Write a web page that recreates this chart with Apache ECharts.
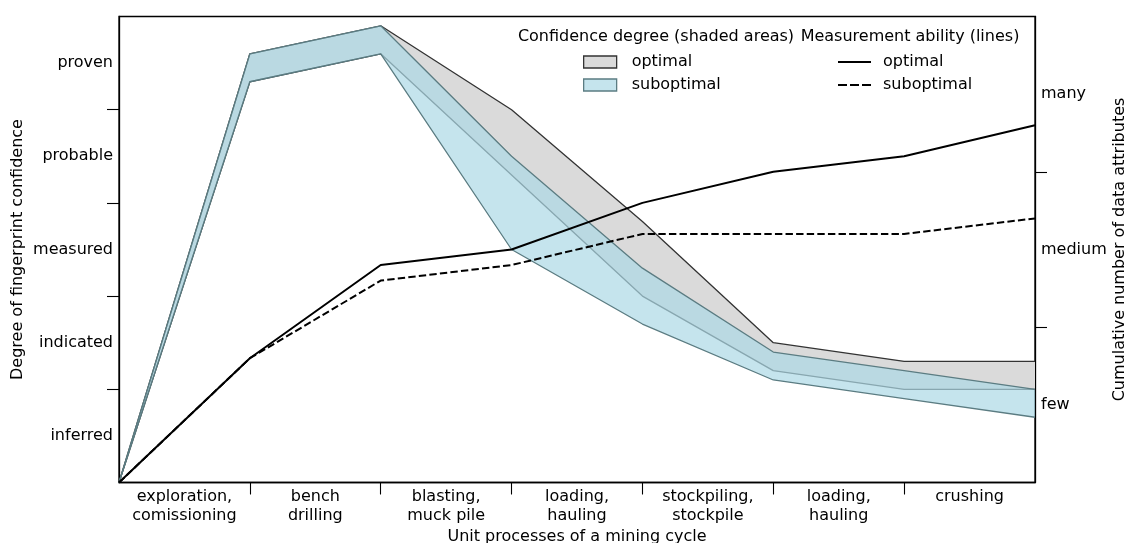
<!DOCTYPE html>
<html>
<head>
<meta charset="utf-8">
<script src="https://cdn.jsdelivr.net/npm/echarts@6/dist/echarts.min.js"></script>
<style>html,body{margin:0;padding:0;background:#fff}#c{width:1126px;height:543px}</style>
</head>
<body>
<div id="c"></div>
<script>
// ---- data ----
const categories = ['exploration,\ncomissioning', 'bench\ndrilling', 'blasting,\nmuck pile', 'loading,\nhauling', 'stockpiling,\nstockpile', 'loading,\nhauling', 'crushing'];
const confidenceLevels = ['inferred', 'indicated', 'measured', 'probable', 'proven'];
const attributeLevels = ['few', 'medium', 'many'];
// stage boundaries 0..7
const stagePoints = ['0', '1', '2', '3', '4', '5', '6', '7'];
// confidence degree (left axis, 0-5)
const optimalUpper    = [0, 4.6, 4.9, 4.0, 2.8, 1.5, 1.3, 1.3];
const optimalLower    = [0, 4.3, 4.6, 3.3, 2.0, 1.2, 1.0, 1.0];
const suboptimalUpper = [0, 4.6, 4.9, 3.5, 2.3, 1.4, 1.2, 1.0];
const suboptimalLower = [0, 4.3, 4.6, 2.5, 1.7, 1.1, 0.9, 0.7];
// measurement ability (right axis, 0-3)
const abilityOptimal    = [0, 0.8, 1.4, 1.5, 1.8, 2.0, 2.1, 2.3];
const abilitySuboptimal = [0, 0.8, 1.3, 1.4, 1.6, 1.6, 1.6, 1.7];

const FONT = 'DejaVu Sans';
const FS = 16;
const greyFill = '#dadada', greyEdge = '#333333';
const blueFill = 'rgba(173,216,230,0.7)', blueEdge = '#5b7c82';

const diff = (up, lo) => up.map((u, i) => +(u - lo[i]).toFixed(4));

const chart = echarts.init(document.getElementById('c'));
const axisLine = { show: true, lineStyle: { color: '#000', width: 1.3 } };
const tickStyle = { color: '#000', width: 1.1 };

chart.setOption({
  animation: false,
  textStyle: { fontFamily: FONT },
  grid: { left: 119, right: 91, top: 16.5, bottom: 60.5, outerBoundsMode: 'none', containLabel: false, show: true, borderColor: '#000', borderWidth: 1.3 },
  graphic: [
    { type: 'text', style: { text: 'Confidence degree (shaded areas)', fontFamily: FONT, fontSize: FS, fill: '#000', textAlign: 'center', textVerticalAlign: 'middle' }, x: 656, y: 37 },
    { type: 'text', style: { text: 'Measurement ability (lines)', fontFamily: FONT, fontSize: FS, fill: '#000', textAlign: 'center', textVerticalAlign: 'middle' }, x: 910, y: 37 }
  ],
  legend: [
    {
      orient: 'vertical', left: 583, top: 54, padding: 0, itemWidth: 33, itemHeight: 12, itemGap: 7,
      selectedMode: false,
      textStyle: { fontFamily: FONT, fontSize: FS, color: '#000', padding: [0, 0, 0, 10] },
      formatter: (n) => n.split(':')[1],
      data: [
        { name: 'area:optimal', icon: 'rect', itemStyle: { color: greyFill, borderColor: greyEdge, borderWidth: 1.3 } },
        { name: 'area:suboptimal', icon: 'rect', itemStyle: { color: blueFill, borderColor: blueEdge, borderWidth: 1.3 } }
      ]
    },
    {
      orient: 'vertical', left: 838, top: 54, padding: 0, itemWidth: 33, itemHeight: 2, itemGap: 7,
      selectedMode: false,
      textStyle: { fontFamily: FONT, fontSize: FS, color: '#000', padding: [0, 0, 0, 7] },
      formatter: (n) => n.split(':')[1],
      data: [
        { name: 'line:optimal', icon: 'path://M0,0 H33 V2 H0 Z', itemStyle: { color: '#000', borderWidth: 0 } },
        { name: 'line:suboptimal', icon: 'path://M0,0 H9 V2 H0 Z M12,0 H21 V2 H12 Z M24,0 H33 V2 H24 Z', itemStyle: { color: '#000', borderWidth: 0 } }
      ]
    }
  ],
  xAxis: [
    { type: 'category', data: stagePoints, boundaryGap: false, show: false, position: 'bottom' },
    {
      type: 'value', min: 0, max: categories.length, position: 'bottom',
      name: 'Unit processes of a mining cycle', nameLocation: 'middle', nameGap: 46, nameMoveOverlap: false,
      nameTextStyle: { fontFamily: FONT, fontSize: FS, color: '#000' },
      axisLine: axisLine,
      axisTick: { show: true, length: 12, lineStyle: tickStyle, customValues: categories.slice(1).map((c, i) => i + 1) },
      axisLabel: { customValues: categories.map((c, i) => i + 0.5), formatter: (v) => categories[Math.floor(v)], margin: 5, fontFamily: FONT, fontSize: FS, lineHeight: 19, color: '#000' },
      splitLine: { show: false }
    }
  ],
  yAxis: [
    {
      type: 'value', min: 0, max: confidenceLevels.length, position: 'left',
      name: 'Degree of fingerprint confidence', nameLocation: 'middle', nameGap: 93, nameRotate: 90, nameMoveOverlap: false,
      nameTextStyle: { fontFamily: FONT, fontSize: FS, color: '#000' },
      axisLine: axisLine,
      axisTick: { show: true, length: 12, lineStyle: tickStyle, customValues: confidenceLevels.slice(1).map((c, i) => i + 1) },
      axisLabel: { customValues: confidenceLevels.map((c, i) => i + 0.5), formatter: (v) => confidenceLevels[Math.floor(v)], margin: 6, fontFamily: FONT, fontSize: FS, color: '#000' },
      splitLine: { show: false }
    },
    {
      type: 'value', min: 0, max: attributeLevels.length, position: 'right',
      name: 'Cumulative number of data attributes', nameLocation: 'middle', nameGap: 77, nameRotate: 90, nameMoveOverlap: false,
      nameTextStyle: { fontFamily: FONT, fontSize: FS, color: '#000' },
      axisLine: axisLine,
      axisTick: { show: true, length: 12, lineStyle: tickStyle, customValues: attributeLevels.slice(1).map((c, i) => i + 1) },
      axisLabel: { customValues: attributeLevels.map((c, i) => i + 0.5), formatter: (v) => attributeLevels[Math.floor(v)], margin: 6, fontFamily: FONT, fontSize: FS, color: '#000' },
      splitLine: { show: false }
    }
  ],
  series: [
    { name: 'area-base:optimal', type: 'line', z: 2, xAxisIndex: 0, yAxisIndex: 0, stack: 'opt', symbol: 'none', data: optimalLower, lineStyle: { color: greyEdge, width: 1.3 } },
    { name: 'area:optimal', type: 'line', z: 2, xAxisIndex: 0, yAxisIndex: 0, stack: 'opt', symbol: 'none', data: diff(optimalUpper, optimalLower), lineStyle: { color: greyEdge, width: 1.3 }, areaStyle: { color: greyFill, opacity: 1 } },
    { name: 'area-base:suboptimal', type: 'line', z: 3, xAxisIndex: 0, yAxisIndex: 0, stack: 'sub', symbol: 'none', data: suboptimalLower, lineStyle: { color: blueEdge, width: 1.3 } },
    { name: 'area:suboptimal', type: 'line', z: 3, xAxisIndex: 0, yAxisIndex: 0, stack: 'sub', symbol: 'none', data: diff(suboptimalUpper, suboptimalLower), lineStyle: { color: blueEdge, width: 1.3 }, areaStyle: { color: blueFill, opacity: 1 } },
    { name: 'line:optimal', type: 'line', z: 4, xAxisIndex: 0, yAxisIndex: 1, symbol: 'none', data: abilityOptimal, lineStyle: { color: '#000', width: 2 }, itemStyle: { color: '#000' } },
    { name: 'line:suboptimal', type: 'line', z: 4, xAxisIndex: 0, yAxisIndex: 1, symbol: 'none', data: abilitySuboptimal, lineStyle: { color: '#000', width: 2, type: [7.4, 3.2] }, itemStyle: { color: '#000' } }
  ]
});
</script>
</body>
</html>
